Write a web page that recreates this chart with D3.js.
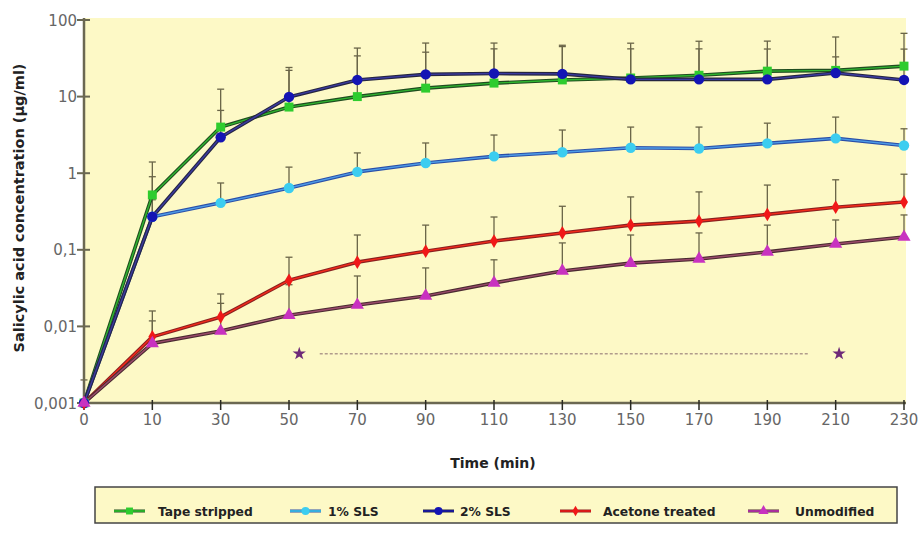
<!DOCTYPE html>
<html><head><meta charset="utf-8">
<script src="https://cdn.jsdelivr.net/npm/d3@7"></script>
<style>body{margin:0;background:#fff;}svg{display:block;font-family:"DejaVu Sans",Verdana,sans-serif;}</style>
</head><body>
<script>
const times = ['0','10','30','50','70','90','110','130','150','170','190','210','230'];
const seriesNames = ['Tape stripped','1% SLS','2% SLS','Acetone treated','Unmodified'];
const tapeStripped = [0.001,0.52,4.0,7.3,10,12.9,15,16.5,17.5,19,21.5,22,25];
const tapeSD       = [0,0.88,8.5,16.7,24,25.1,27,28.5,24.5,23,31.5,38,42];
const sls1         = [0.001,0.27,0.41,0.64,1.04,1.36,1.66,1.88,2.15,2.1,2.45,2.85,2.3];
const sls1SD       = [0,0.18,0.335,0.56,0.8,1.12,1.49,1.78,1.85,1.9,2.05,2.55,1.5];
const sls2         = [0.001,0.27,2.95,9.9,16.5,19.5,20,19.8,16.8,16.8,16.8,20.3,16.5];
const sls2SD       = [0,0.63,3.65,12.1,26.5,30.5,30,27,33,36,25,12.7,25.2];
const acetone      = [0.001,0.0073,0.0133,0.040,0.069,0.096,0.13,0.166,0.21,0.237,0.29,0.36,0.42];
const acetoneSD    = [0,0.0086,0.0132,0.04,0.087,0.114,0.138,0.204,0.28,0.333,0.41,0.46,0.55];
const unmodified   = [0.001,0.006,0.0087,0.014,0.019,0.025,0.037,0.053,0.067,0.076,0.094,0.119,0.147];
const unmodifiedSD = [0.001,0.0058,0.0113,0.021,0.0265,0.033,0.037,0.07,0.089,0.09,0.116,0.126,0.138];
const yTickValues = [0.001,0.01,0.1,1,10,100];
const yTickLabels = ['0,001','0,01','0,1','1','10','100'];
// significance annotation (category-index position, value)
const sigStars = [[3.15,0.0044],[11.05,0.0044]];
const sigLine = [[3.45,0.0044],[10.6,0.0044]];

const W=922,H=534;
const L=84,R=904,T=20,B=403;
const svg=d3.select('body').append('svg').attr('width',W).attr('height',H);
const x=d3.scalePoint().domain(times).range([L,R]);
const xi=d3.scaleLinear().domain([0,times.length-1]).range([L,R]);
const y=d3.scaleLog().domain([0.001,100]).range([B,T]);

svg.append('rect').attr('x',L).attr('y',T-2).attr('width',R-L+2).attr('height',B-T+2).attr('fill','#fdf9c6');

const series=[
 {name:seriesNames[0],v:tapeStripped,sd:tapeSD,marker:'#2ecc2e',outer:'#1f4d1f',inner:'#2fb52f',sym:d3.symbolSquare,size:80},
 {name:seriesNames[1],v:sls1,sd:sls1SD,marker:'#3ccdf0',outer:'#2a4fa8',inner:'#4d9be6',sym:d3.symbolCircle,size:85},
 {name:seriesNames[2],v:sls2,sd:sls2SD,marker:'#1414b4',outer:'#252540',inner:'#3a3aa0',sym:d3.symbolCircle,size:85},
 {name:seriesNames[3],v:acetone,sd:acetoneSD,marker:'#f01818',outer:'#8a2020',inner:'#f52a1a',sym:d3.symbolDiamond,size:55},
 {name:seriesNames[4],v:unmodified,sd:unmodifiedSD,marker:'#c832c0',outer:'#4a2a30',inner:'#9a4a6a',sym:d3.symbolTriangle,size:75}
];

// error bars
const eg=svg.append('g');
series.forEach(s=>{
  s.v.forEach((v,i)=>{
    if(!s.sd[i]) return;
    const xx=x(times[i]), y0=y(v), y1=y(v+s.sd[i]);
    eg.append('line').attr('x1',xx).attr('x2',xx).attr('y1',y0).attr('y2',y1).attr('stroke','#6a6548').attr('stroke-width',1.3);
    eg.append('line').attr('x1',xx-3.5).attr('x2',xx+3.5).attr('y1',y1).attr('y2',y1).attr('stroke','#6a6548').attr('stroke-width',1.3);
  });
});

// axes
const ax=svg.append('g');
ax.append('line').attr('x1',L).attr('x2',R+2).attr('y1',B).attr('y2',B).attr('stroke','#6b6852').attr('stroke-width',2.5);
ax.append('line').attr('x1',L).attr('x2',L).attr('y1',T-2).attr('y2',B).attr('stroke','#6b6852').attr('stroke-width',2.5);
times.forEach(t=>{
  ax.append('line').attr('x1',x(t)).attr('x2',x(t)).attr('y1',B-3).attr('y2',B+7).attr('stroke','#2a2a22').attr('stroke-width',1.5);
  ax.append('text').attr('x',x(t)).attr('y',B+22).attr('text-anchor','middle').attr('font-size',15).attr('fill','#666').text(t);
});
yTickValues.forEach((v,i)=>{
  ax.append('line').attr('x1',L-7).attr('x2',L+6).attr('y1',y(v)).attr('y2',y(v)).attr('stroke','#6b6852').attr('stroke-width',2);
  ax.append('text').attr('x',L-7).attr('y',y(v)+5.5).attr('text-anchor','end').attr('font-size',15).attr('fill','#666').text(yTickLabels[i]);
});
svg.append('text').attr('x',493).attr('y',468).attr('text-anchor','middle').attr('font-size',14).attr('font-weight','bold').attr('fill','#222').text('Time (min)');
svg.append('text').attr('transform','translate(24,208) rotate(-90)').attr('text-anchor','middle').attr('font-size',14.5).attr('font-weight','bold').attr('fill','#222').text('Salicylic acid concentration (µg/ml)');

// significance marker
svg.append('line').attr('x1',xi(sigLine[0][0])).attr('x2',xi(sigLine[1][0])).attr('y1',y(sigLine[0][1])).attr('y2',y(sigLine[1][1]))
  .attr('stroke','#b09c8c').attr('stroke-width',1.6).attr('stroke-dasharray','3,2');
sigStars.forEach(p=>{
  svg.append('path').attr('d',d3.symbol().type(d3.symbolStar).size(55)()).attr('transform',`translate(${xi(p[0])},${y(p[1])})`).attr('fill','#6e2a78');
});

// lines & markers
const line=d3.line().x((d,i)=>x(times[i])).y(d=>y(d));
const lg=svg.append('g'), mg=svg.append('g');
series.forEach(s=>{
  lg.append('path').attr('d',line(s.v)).attr('fill','none').attr('stroke',s.outer).attr('stroke-width',3.6).attr('stroke-linejoin','round');
  lg.append('path').attr('d',line(s.v)).attr('fill','none').attr('stroke',s.inner).attr('stroke-width',1.4).attr('stroke-linejoin','round');
  s.v.forEach((v,i)=>{
    mg.append('path').attr('d',d3.symbol().type(s.sym).size(s.size)()).attr('transform',`translate(${x(times[i])},${y(v)})`).attr('fill',s.marker);
  });
});

// legend
const leg=svg.append('g');
leg.append('rect').attr('x',95).attr('y',487).attr('width',802).attr('height',36).attr('fill','#fdf9c6').attr('stroke','#444').attr('stroke-width',1.5);
const legX=[[114,158],[290,328],[423,460],[560,603],[748,795]];
series.forEach((s,i)=>{
  const [sx,tx]=legX[i], cy=511;
  leg.append('line').attr('x1',sx).attr('x2',sx+31).attr('y1',cy).attr('y2',cy).attr('stroke',s.outer).attr('stroke-width',3);
  leg.append('line').attr('x1',sx).attr('x2',sx+31).attr('y1',cy).attr('y2',cy).attr('stroke',s.marker).attr('stroke-width',1.5);
  leg.append('path').attr('d',d3.symbol().type(s.sym).size(s.size*0.6)()).attr('transform',`translate(${sx+15.5},${cy})`).attr('fill',s.marker);
  leg.append('text').attr('x',tx).attr('y',cy+4.5).attr('font-size',12.3).attr('font-weight','bold').attr('fill','#222').text(s.name);
});
</script>
</body></html>
